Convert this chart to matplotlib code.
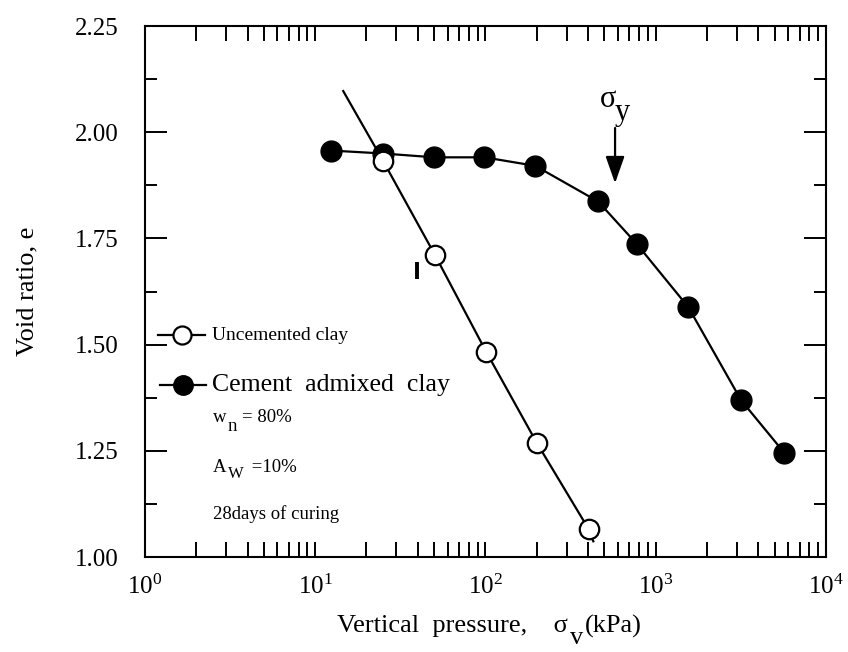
import matplotlib
matplotlib.use('Agg')
import matplotlib.pyplot as plt
import numpy as np
from matplotlib.ticker import LogLocator, MultipleLocator, FixedLocator, FuncFormatter, NullFormatter

plt.rcParams['font.family'] = ['Liberation Serif', 'DejaVu Serif']
plt.rcParams['mathtext.fontset'] = 'custom'
plt.rcParams['mathtext.rm'] = 'Liberation Serif'
plt.rcParams['mathtext.it'] = 'Liberation Serif:italic'

# cement admixed clay (filled circles)
cem_p = [12.3, 25.1, 49.9, 98.6, 196, 459, 774, 1556, 3175, 5702]
cem_e = [1.957, 1.950, 1.941, 1.941, 1.921, 1.837, 1.737, 1.588, 1.369, 1.245]

# uncemented clay (open circles)
unc_p = [25.0, 50.5, 101, 200, 403]
unc_e = [1.933, 1.711, 1.483, 1.269, 1.066]
# the line is drawn a bit past the points
unc_line_p = [14.6, 25.0, 50.5, 101, 200, 403, 430]
unc_line_e = [2.097, 1.933, 1.711, 1.483, 1.269, 1.066, 1.037]

# yield stress arrow
sigma_y = 577
sigma_arrow_e = [2.010, 1.880]

# stray mark near 40 kPa
mark_p = [39.5, 39.5]
mark_e = [1.695, 1.655]

fig = plt.figure(figsize=(8.48, 6.52), dpi=100)
ax = fig.add_axes([0.171, 0.1457, 0.803, 0.8143])


def sub_text(x, y, base, sub, rest, fs, drop, coords, sub_fs=None, gap1=0.5, gap2=2):
    # base text, then a lowered subscript at full-ish size, then the rest
    tr = ax.transAxes if coords == 'axes fraction' else (
        fig.transFigure if coords == 'figure fraction' else ax.transData)
    t1 = ax.text(x, y, base, fontsize=fs, transform=tr, va='baseline', ha='left')
    t2 = ax.annotate(sub, xy=(1, y), xycoords=(t1, coords), xytext=(gap1, -drop),
                     textcoords='offset points', fontsize=sub_fs or fs, va='baseline', ha='left')
    if rest:
        ax.annotate(rest, xy=(1, y), xycoords=(t2, coords), xytext=(gap2, 0),
                    textcoords='offset points', fontsize=fs, va='baseline', ha='left')


ax.plot(cem_p, cem_e, '-', color='k', lw=1.6, zorder=2)
ax.plot(cem_p, cem_e, 'o', color='k', ms=15, zorder=3)
ax.plot(unc_line_p, unc_line_e, '-', color='k', lw=1.6, zorder=4)
ax.plot(unc_p, unc_e, 'o', mfc='white', mec='k', mew=1.6, ms=14, zorder=5)
ax.plot(mark_p, mark_e, '-', color='k', lw=2.8, solid_capstyle='butt')

ax.annotate('', xy=(sigma_y, sigma_arrow_e[1]), xytext=(sigma_y, sigma_arrow_e[0]),
            arrowprops=dict(arrowstyle='-|>,head_length=1.65,head_width=0.58',
                            mutation_scale=10, lw=1.6, color='k',
                            shrinkA=0, shrinkB=0))
sub_text(471, 2.060, 'σ', 'y', '', 22, 9.4, 'data', gap1=-1)

ax.set_xscale('log')
ax.set_xlim(1, 1e4)
ax.set_ylim(1.0, 2.25)

ax.xaxis.set_major_locator(FixedLocator([1, 10, 100, 1000, 10000]))
ax.xaxis.set_major_formatter(FuncFormatter(lambda v, p: r'$10^{%d}$' % round(np.log10(v))))
ax.xaxis.set_minor_locator(LogLocator(base=10, subs=np.arange(2, 10)))
ax.xaxis.set_minor_formatter(NullFormatter())
ax.yaxis.set_major_locator(MultipleLocator(0.25))
ax.yaxis.set_minor_locator(MultipleLocator(0.125))
ax.yaxis.set_major_formatter(FuncFormatter(lambda v, p: '%.2f' % v))

ax.tick_params(axis='both', which='both', direction='in', top=True, right=True, width=1.4)
ax.tick_params(axis='x', which='both', length=11)
ax.tick_params(axis='x', which='major', labelsize=18, pad=13)
ax.tick_params(axis='y', which='major', length=16, labelsize=18, pad=19)
ax.tick_params(axis='y', which='minor', length=8.5)
for s in ax.spines.values():
    s.set_linewidth(1.5)

# x label with a lowered subscript
sub_text(0.397, 0.0305, 'Vertical  pressure,    σ', 'v', '(kPa)', 19, 8.5, 'figure fraction',
         gap1=2, gap2=1)
ax.set_ylabel('Void ratio, e', fontsize=19)
ax.yaxis.set_label_coords(-0.156, 0.5)

# legend drawn by hand
tr = ax.transAxes
ax.plot([0.019, 0.088], [0.418, 0.418], '-', color='k', lw=1.6, transform=tr, clip_on=False)
ax.plot([0.054], [0.418], 'o', mfc='white', mec='k', mew=1.6, ms=13, transform=tr)
ax.text(0.098, 0.418, 'Uncemented clay', fontsize=14, va='center', transform=tr)
ax.plot([0.022, 0.090], [0.324, 0.324], '-', color='k', lw=1.6, transform=tr, clip_on=False)
ax.plot([0.056], [0.324], 'o', color='k', ms=14, transform=tr)
ax.text(0.098, 0.324, 'Cement  admixed  clay', fontsize=18.5, va='center', transform=tr)

sub_text(0.100, 0.2548, 'w', 'n', '= 80%', 13.5, 6.5, 'axes fraction', gap1=0.5, gap2=4)
sub_text(0.100, 0.1606, 'A', 'W', ' =10%', 13.5, 4.5, 'axes fraction', sub_fs=12, gap1=1, gap2=2)
ax.text(0.100, 0.0716, '28days of curing', fontsize=13.5, va='baseline', transform=tr)

fig.savefig('out.png', dpi=100)
